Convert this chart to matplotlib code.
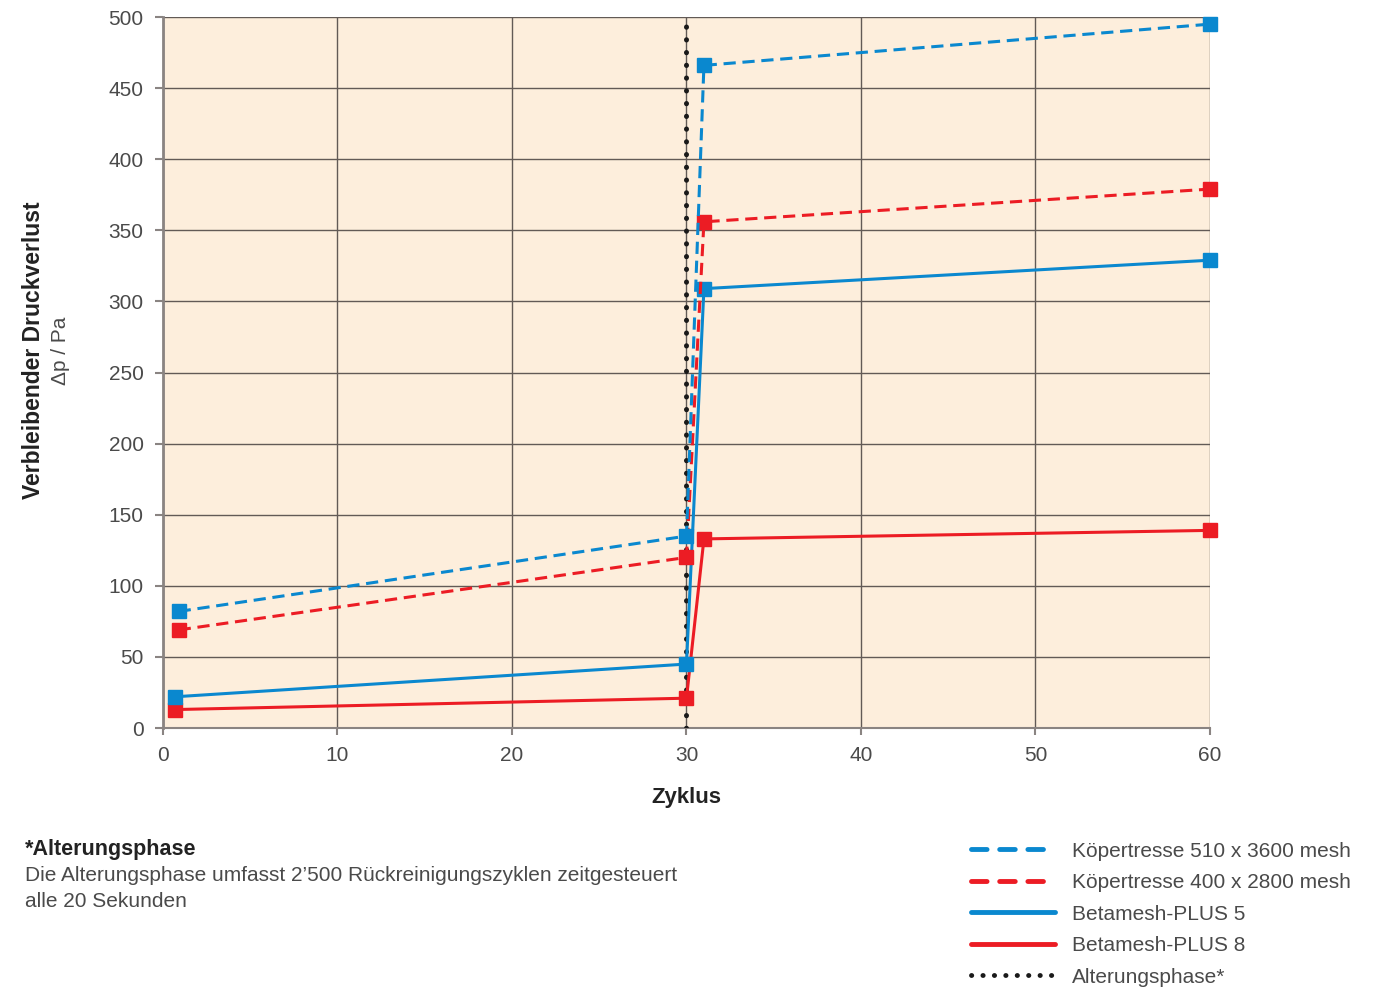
import matplotlib.pyplot as plt
from matplotlib.lines import Line2D

plt.rcParams['font.family'] = ['Liberation Sans', 'DejaVu Sans']

# data
zyklus_start = [0.9, 30, 31, 60]
zyklus_plus = [0.7, 30, 31, 60]
koeper_510 = [82, 135, 466, 495]
koeper_400 = [69, 120, 356, 379]
beta_5 = [22, 45, 309, 329]
beta_8 = [13, 21, 133, 139]
alterung_x = 30

blue = "#0A88CF"
red = "#EC1C24"
grid_col = "#625a56"
txt_col = "#4a4a4a"

fig = plt.figure(figsize=(13.86, 9.9), dpi=100)
ax = fig.add_axes([0.1176, 0.2646, 0.7554, 0.7182])
ax.set_facecolor("#FDEEDC")

ax.set_xlim(0, 60)
ax.set_ylim(0, 500)
ax.set_xticks(range(0, 61, 10))
ax.set_yticks(range(0, 501, 50))
ax.grid(True, color=grid_col, linewidth=1.0)
ax.set_axisbelow(True)
for s in ["top", "right"]:
    ax.spines[s].set_visible(False)
ax.spines["left"].set_color("#8a8482")
ax.spines["left"].set_linewidth(2)
ax.spines["bottom"].set_color("#8a8482")
ax.spines["bottom"].set_linewidth(1.5)
ax.tick_params(axis="both", labelsize=15, colors="#8a8482", labelcolor=txt_col,
               length=6, width=1.5)
ax.tick_params(axis="x", length=5, pad=8)
ax.tick_params(axis="y", pad=8)

dash = (0, (4, 2.2))
ms = 9.5
ax.plot([alterung_x, alterung_x], [0, 500], color="#1a1a1a", linewidth=3.6,
        linestyle=(0, (0.05, 2.5)), dash_capstyle="round", zorder=3)
ax.plot(zyklus_plus, beta_8, color=red, linewidth=2.2, marker="s", markersize=ms,
        zorder=4, clip_on=False)
ax.plot(zyklus_plus, beta_5, color=blue, linewidth=2.2, marker="s", markersize=ms,
        zorder=4, clip_on=False)
ax.plot(zyklus_start, koeper_400, color=red, linewidth=2.2, linestyle=dash,
        marker="s", markersize=ms, zorder=4, clip_on=False)
ax.plot(zyklus_start, koeper_510, color=blue, linewidth=2.2, linestyle=dash,
        marker="s", markersize=ms, zorder=4, clip_on=False)

ax.set_xlabel("Zyklus", fontsize=16, fontweight="bold", color="#222222", labelpad=16)
fig.text(0.024, 0.646, "Verbleibender Druckverlust", rotation=90, fontsize=16.5,
         fontweight="bold", color="#222222", ha="center", va="center")
fig.text(0.044, 0.646, "Δp / Pa", rotation=90, fontsize=15,
         color=txt_col, ha="center", va="center")

# footnote
fig.text(0.018, 0.142, "*Alterungsphase", fontsize=15.5, fontweight="bold",
         color="#222222", ha="left", va="center")
fig.text(0.018, 0.116, "Die Alterungsphase umfasst 2’500 Rückreinigungszyklen zeitgesteuert",
         fontsize=15, color=txt_col, ha="left", va="center")
fig.text(0.018, 0.089, "alle 20 Sekunden", fontsize=15, color=txt_col,
         ha="left", va="center")

handles = [
    Line2D([0], [0], color=blue, linewidth=3.5, linestyle=(0, (3.2, 2.6)), dash_capstyle="round"),
    Line2D([0], [0], color=red, linewidth=3.5, linestyle=(0, (3.2, 2.6)), dash_capstyle="round"),
    Line2D([0], [0], color=blue, linewidth=3.5, solid_capstyle="round"),
    Line2D([0], [0], color=red, linewidth=3.5, solid_capstyle="round"),
    Line2D([0], [0], color="#1a1a1a", linewidth=3.5, linestyle=(0, (0.05, 2.3)),
           dash_capstyle="round"),
]
labels = ["Köpertresse 510 x 3600 mesh", "Köpertresse 400 x 2800 mesh",
          "Betamesh-PLUS 5", "Betamesh-PLUS 8", "Alterungsphase*"]
leg = fig.legend(handles, labels, loc="upper left", bbox_to_anchor=(0.6932, 0.1605),
                 frameon=False, fontsize=15, handlelength=4.0, handletextpad=0.85,
                 labelspacing=0.6, borderpad=0)
for t in leg.get_texts():
    t.set_color(txt_col)

fig.savefig("out.png", dpi=100, facecolor="white")
